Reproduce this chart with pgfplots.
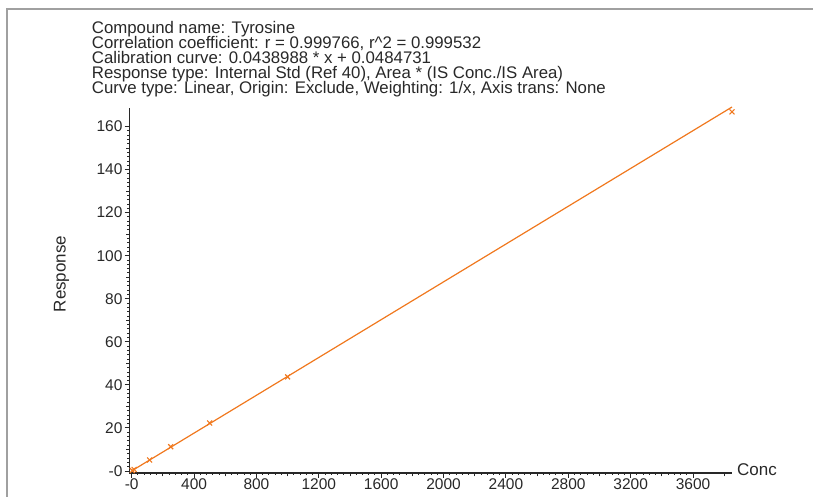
\documentclass[border=0pt]{standalone}
\usepackage{pgfplots}
\pgfplotsset{compat=1.18}
\usepackage{fontspec}
\setmainfont{Liberation Sans}
\definecolor{curveorange}{RGB}{240,120,30}
\definecolor{framegray}{RGB}{160,160,160}
\definecolor{axisgray}{RGB}{40,40,40}
\begin{document}
\begin{tikzpicture}[x=1pt,y=1pt]
\useasboundingbox (0,0) rectangle (813,497);
% frame
\draw[framegray, line width=2pt] (7,0) -- (7,487.5) -- (813,487.5);
% header text
\begin{scope}[every node/.style={anchor=base west, inner sep=0pt, font=\fontsize{16.8}{15}\selectfont, text=axisgray}]
\node at (91.7,463.3) {Compound name: Tyrosine};
\node at (91.7,448.3) {Correlation coefficient: r = 0.999766, r\^{}2 = 0.999532};
\node at (91.7,433.3) {Calibration curve: 0.0438988 * x + 0.0484731};
\node at (91.7,418.3) {Response type: Internal Std (Ref 40), Area * (IS Conc./IS Area)};
\node at (91.7,403.3) {Curve type: Linear, Origin: Exclude, Weighting: 1/x, Axis trans: None};
\end{scope}
\begin{axis}[
  at={(129.3pt,24pt)}, anchor=south west,
  scale only axis, width=602.4pt, height=365pt,
  xmin=-15.4, xmax=3848, ymin=-0.93, ymax=168.6,
  axis lines=left, axis line style={-, axisgray, line width=1.3pt},
  tick align=outside, tick style={axisgray, line width=0.9pt},
  major tick length=4.7pt, minor tick length=2pt,
  xtick={0,400,800,1200,1600,2000,2400,2800,3200,3600},
  xticklabels={-0,400,800,1200,1600,2000,2400,2800,3200,3600},
  ytick={0,20,40,60,80,100,120,140,160},
  yticklabels={-0,20,40,60,80,100,120,140,160},
  minor x tick num=9, minor y tick num=9,
  extra x ticks={200,600,1000,1400,1800,2200,2600,3000,3400,3800},
  extra x tick labels={},
  extra y ticks={10,30,50,70,90,110,130,150},
  extra y tick labels={},
  extra tick style={major tick length=3.3pt},
  /pgf/number format/assume math mode=true,
  ticklabel style={font=\fontsize{15.5}{16}\selectfont, text=axisgray},
  xticklabel style={inner sep=1pt},
  yticklabel style={inner sep=2pt},
  clip=false,
]
\addplot[curveorange, line width=1.2pt, no marks] coordinates {(3.9,0.22) (3850,169.06)};
\addplot[only marks, mark=x, mark size=3.5pt, curveorange, mark options={line width=1.1pt}] coordinates {
(3.9,0.2) (15.6,0.7) (115,5.1) (250,11.3) (500,22.3) (1000,43.7) (3850,166.8)};
\end{axis}
\node[anchor=west, inner sep=0pt, font=\fontsize{17}{17}\selectfont, text=axisgray] at (737,27) {Conc};
\node[rotate=90, inner sep=0pt, font=\fontsize{17}{17}\selectfont, text=axisgray] at (61.5,223) {Response};
\end{tikzpicture}
\end{document}
